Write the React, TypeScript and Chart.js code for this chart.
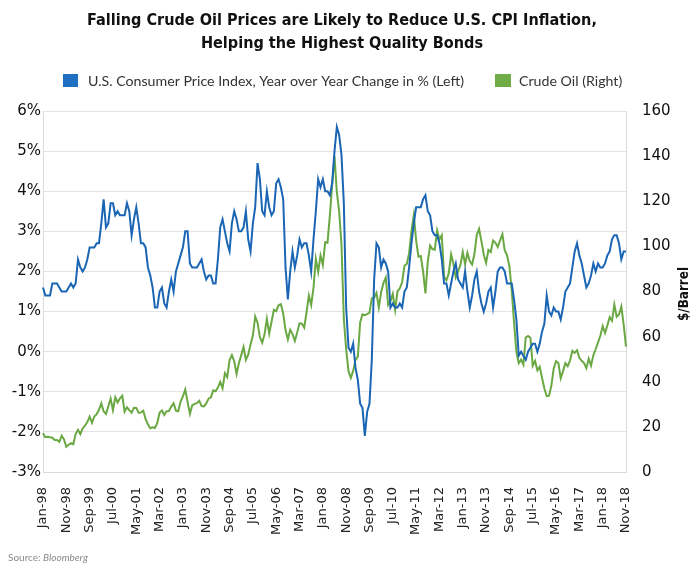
import React, { useEffect, useRef } from 'react';
import { Chart, registerables } from 'chart.js';

Chart.register(...registerables);

const MONTHS = ['Jan', 'Feb', 'Mar', 'Apr', 'May', 'Jun', 'Jul', 'Aug', 'Sep', 'Oct', 'Nov', 'Dec'];
const FIRST_YEAR = 1998;
const MONTH_COUNT = 251; // Jan-98 .. Nov-18

const categories: string[] = [];
for (let i = 0; i < MONTH_COUNT; i++) {
  const yr = FIRST_YEAR + Math.floor(i / 12);
  categories.push(`${MONTHS[i % 12]}-${String(yr % 100).padStart(2, '0')}`);
}

const tickLabels = [
  'Jan-98', 'Nov-98', 'Sep-99', 'Jul-00', 'May-01', 'Mar-02', 'Jan-03', 'Nov-03', 'Sep-04',
  'Jul-05', 'May-06', 'Mar-07', 'Jan-08', 'Nov-08', 'Sep-09', 'Jul-10', 'May-11', 'Mar-12',
  'Jan-13', 'Nov-13', 'Sep-14', 'Jul-15', 'May-16', 'Mar-17', 'Jan-18', 'Nov-18',
];

// U.S. CPI, year over year change in % (left axis)
const cpiYoY = [
  1.6, 1.4, 1.4, 1.4, 1.7, 1.7, 1.7, 1.6, 1.5, 1.5, 1.5, 1.6, // 1998
  1.7, 1.6, 1.7, 2.3, 2.1, 2.0, 2.1, 2.3, 2.6, 2.6, 2.6, 2.7, // 1999
  2.7, 3.2, 3.8, 3.1, 3.2, 3.7, 3.7, 3.4, 3.5, 3.4, 3.4, 3.4, // 2000
  3.7, 3.5, 2.9, 3.3, 3.6, 3.2, 2.7, 2.7, 2.6, 2.1, 1.9, 1.6, // 2001
  1.1, 1.1, 1.5, 1.6, 1.2, 1.1, 1.5, 1.8, 1.5, 2.0, 2.2, 2.4, // 2002
  2.6, 3.0, 3.0, 2.2, 2.1, 2.1, 2.1, 2.2, 2.3, 2.0, 1.8, 1.9, // 2003
  1.9, 1.7, 1.7, 2.3, 3.1, 3.3, 3.0, 2.7, 2.5, 3.2, 3.5, 3.3, // 2004
  3.0, 3.0, 3.1, 3.5, 2.8, 2.5, 3.2, 3.6, 4.7, 4.3, 3.5, 3.4, // 2005
  4.0, 3.6, 3.4, 3.5, 4.2, 4.3, 4.1, 3.8, 2.1, 1.3, 2.0, 2.5, // 2006
  2.1, 2.4, 2.8, 2.6, 2.7, 2.7, 2.4, 2.0, 2.8, 3.5, 4.3, 4.1, // 2007
  4.3, 4.0, 4.0, 3.9, 4.2, 5.0, 5.6, 5.4, 4.9, 3.7, 1.1, 0.1, // 2008
  0.0, 0.2, -0.4, -0.7, -1.3, -1.4, -2.1, -1.5, -1.3, -0.2, 1.8, 2.7, // 2009
  2.6, 2.1, 2.3, 2.2, 2.0, 1.1, 1.2, 1.1, 1.1, 1.2, 1.1, 1.5, // 2010
  1.6, 2.1, 2.7, 3.2, 3.6, 3.6, 3.6, 3.8, 3.9, 3.5, 3.4, 3.0, // 2011
  2.9, 2.9, 2.7, 2.3, 1.7, 1.7, 1.4, 1.7, 2.0, 2.2, 1.8, 1.7, // 2012
  1.6, 2.0, 1.5, 1.1, 1.4, 1.8, 2.0, 1.5, 1.2, 1.0, 1.2, 1.5, // 2013
  1.6, 1.1, 1.5, 2.0, 2.1, 2.1, 2.0, 1.7, 1.7, 1.7, 1.3, 0.8, // 2014
  -0.1, 0.0, -0.1, -0.2, 0.0, 0.1, 0.2, 0.2, 0.0, 0.2, 0.5, 0.7, // 2015
  1.4, 1.0, 0.9, 1.1, 1.0, 1.0, 0.8, 1.1, 1.5, 1.6, 1.7, 2.1, // 2016
  2.5, 2.7, 2.4, 2.2, 1.9, 1.6, 1.7, 1.9, 2.2, 2.0, 2.2, 2.1, // 2017
  2.1, 2.2, 2.4, 2.5, 2.8, 2.9, 2.9, 2.7, 2.3, 2.5, 2.5, // 2018
];

// Crude oil, $/barrel (right axis)
const crudeOil = [
  17.2, 15.4, 15.6, 15.4, 15.2, 14.2, 14.2, 13.4, 16.1, 14.4, 11.2, 12.1, // 1998
  12.8, 12.3, 16.8, 18.7, 16.8, 19.3, 20.5, 22.1, 24.5, 21.8, 24.6, 25.6, // 1999
  27.6, 30.4, 26.9, 25.7, 29.0, 32.5, 27.4, 33.1, 30.8, 32.7, 33.8, 26.8, // 2000
  28.7, 27.4, 26.3, 28.5, 28.4, 26.3, 26.4, 27.2, 23.4, 21.2, 19.4, 19.8, // 2001
  19.5, 21.7, 26.3, 27.3, 25.3, 26.9, 27.0, 29.0, 30.5, 27.2, 26.9, 31.2, // 2002
  33.5, 36.6, 31.0, 25.8, 29.6, 30.2, 30.5, 31.6, 29.2, 29.1, 30.4, 32.5, // 2003
  33.1, 36.2, 35.8, 37.4, 39.9, 37.1, 43.8, 42.1, 49.6, 51.8, 49.1, 43.5, // 2004
  48.2, 51.8, 55.4, 49.7, 52.0, 56.5, 60.6, 68.9, 66.2, 59.8, 57.3, 61.0, // 2005
  67.9, 61.4, 66.6, 71.9, 71.3, 73.9, 74.4, 70.3, 62.9, 58.7, 63.0, 61.1, // 2006
  58.1, 61.8, 65.9, 65.7, 64.0, 70.7, 78.2, 74.0, 81.7, 94.5, 88.7, 96.0, // 2007
  91.8, 101.8, 101.6, 113.5, 127.4, 140.0, 124.1, 115.5, 100.6, 67.8, 54.4, 44.6, // 2008
  41.7, 44.8, 49.7, 51.1, 66.3, 69.9, 69.5, 70.0, 70.6, 77.0, 77.3, 79.4, // 2009
  72.9, 79.7, 83.8, 86.2, 74.0, 75.6, 79.0, 71.9, 80.0, 81.4, 84.1, 91.4, // 2010
  92.2, 97.0, 106.7, 113.9, 102.7, 95.4, 95.7, 88.8, 79.2, 93.2, 100.4, 98.8, // 2011
  98.5, 107.1, 103.0, 104.9, 86.5, 85.0, 88.1, 96.5, 92.2, 86.2, 88.9, 91.8, // 2012
  97.5, 92.1, 97.2, 93.5, 92.0, 96.6, 105.0, 107.7, 102.3, 96.4, 92.7, 98.4, // 2013
  97.5, 102.6, 101.6, 99.7, 102.7, 105.4, 98.2, 96.0, 91.2, 80.5, 66.2, 53.3, // 2014
  48.2, 49.8, 47.6, 59.6, 60.3, 59.5, 47.1, 49.2, 45.1, 46.6, 41.7, 37.0, // 2015
  33.6, 33.8, 38.3, 45.9, 49.1, 48.3, 41.6, 44.7, 48.2, 46.9, 49.4, 53.7, // 2016
  52.8, 54.0, 50.6, 49.3, 48.3, 46.0, 50.2, 47.2, 51.7, 54.4, 57.4, 60.4, // 2017
  64.7, 61.6, 64.9, 68.6, 67.0, 74.2, 68.8, 69.8, 73.3, 65.3, 55.6, // 2018
];

const CPI_LABEL = 'U.S. Consumer Price Index, Year over Year Change in % (Left)';
const OIL_LABEL = 'Crude Oil (Right)';
const TITLE_LINES = [
  'Falling Crude Oil Prices are Likely to Reduce U.S. CPI Inflation,',
  'Helping the Highest Quality Bonds',
];
const RIGHT_AXIS_TITLE = '$/Barrel';
const SOURCE_PREFIX = 'Source: ';
const SOURCE_NAME = 'Bloomberg';

const BLUE = '#1a66b4';
const GREEN = '#6aa843';
const NARROW = "'Liberation Sans Narrow', 'DejaVu Sans Condensed', 'Roboto Condensed', 'Arial Narrow', sans-serif";

function fitFont(ctx: CanvasRenderingContext2D, text: string, weight: string, size: number, target: number) {
  ctx.font = `${weight} ${size}px ${NARROW}`;
  const w = ctx.measureText(text).width;
  const s = Math.min(size, (size * target) / w);
  ctx.font = `${weight} ${s}px ${NARROW}`;
}

const textPlugin = {
  id: 'customText',
  afterDraw(chart: any) {
    const ctx: CanvasRenderingContext2D = chart.ctx;
    ctx.save();
    // Title
    ctx.fillStyle = '#111';
    ctx.textAlign = 'center';
    ctx.textBaseline = 'middle';
    fitFont(ctx, TITLE_LINES[0], 'bold', 19, 510);
    ctx.fillText(TITLE_LINES[0], 342, 21);
    ctx.fillText(TITLE_LINES[1], 342, 44);

    // Legend
    ctx.textAlign = 'left';
    ctx.font = "14.2px Lato, 'Noto Sans', sans-serif";
    ctx.fillStyle = '#1f6fc2';
    ctx.fillRect(63, 74, 15, 13);
    ctx.fillStyle = '#333';
    ctx.fillText(CPI_LABEL, 88, 81);
    ctx.fillStyle = '#70ad47';
    ctx.fillRect(495, 74, 16, 13);
    ctx.fillStyle = '#333';
    ctx.fillText(OIL_LABEL, 519, 81);

    // Right axis title
    ctx.save();
    ctx.translate(685, 294);
    ctx.rotate(-Math.PI / 2);
    ctx.textAlign = 'center';
    ctx.fillStyle = '#111';
    fitFont(ctx, RIGHT_AXIS_TITLE, 'bold', 15, 54);
    ctx.fillText(RIGHT_AXIS_TITLE, 0, 0);
    ctx.restore();

    // Source
    ctx.textAlign = 'left';
    ctx.fillStyle = '#8a8a8a';
    ctx.font = "10px Lato, 'Noto Sans', sans-serif";
    ctx.fillText(SOURCE_PREFIX, 8, 558);
    const pw = ctx.measureText(SOURCE_PREFIX).width;
    ctx.font = "italic 10px Lato, 'Noto Sans', sans-serif";
    ctx.fillText(SOURCE_NAME, 8 + pw, 558);
    ctx.restore();
  },
};

export default function App() {
  const canvasRef = useRef<HTMLCanvasElement | null>(null);

  useEffect(() => {
    document.body.style.margin = '0';
    const canvas = canvasRef.current;
    if (!canvas) return;
    const tickFont = { family: "'DejaVu Sans', sans-serif", size: 15 };
    const chart = new Chart(canvas, {
      type: 'line',
      data: {
        labels: categories,
        datasets: [
          {
            label: CPI_LABEL,
            data: cpiYoY,
            borderColor: BLUE,
            backgroundColor: BLUE,
            borderWidth: 2,
            pointRadius: 0,
            tension: 0,
            yAxisID: 'y',
          },
          {
            label: OIL_LABEL,
            data: crudeOil,
            borderColor: GREEN,
            backgroundColor: GREEN,
            borderWidth: 2,
            pointRadius: 0,
            tension: 0,
            yAxisID: 'y1',
          },
        ],
      },
      options: {
        responsive: false,
        animation: false,
        layout: { padding: { top: 111, left: 0, right: 0, bottom: 0 } },
        plugins: {
          legend: { display: false },
          title: { display: false },
          tooltip: { enabled: false },
        },
        scales: {
          x: {
            type: 'category',
            offset: false,
            grid: { display: false, drawTicks: false },
            border: { display: true, color: '#dadada' },
            ticks: {
              autoSkip: false,
              minRotation: 90,
              maxRotation: 90,
              padding: 15,
              color: '#222',
              font: { family: "'DejaVu Sans', sans-serif", size: 13 },
              callback: (_v: any, i: number) => (tickLabels.includes(categories[i]) ? categories[i] : ''),
            },
            afterFit: (s: any) => {
              s.height = 102;
            },
          },
          y: {
            position: 'left',
            min: -3,
            max: 6,
            ticks: {
              stepSize: 1,
              padding: 2,
              color: '#111',
              font: tickFont,
              callback: (v: any) => `${v}%`,
            },
            grid: { color: '#e4e4e4', drawTicks: false, lineWidth: 1 },
            border: { display: true, color: '#dadada' },
            afterFit: (s: any) => {
              s.width = 43;
            },
          },
          y1: {
            position: 'right',
            min: 0,
            max: 160,
            ticks: { stepSize: 20, padding: 16, color: '#111', font: tickFont },
            grid: { drawOnChartArea: false, drawTicks: false },
            border: { display: true, color: '#dadada' },
            afterFit: (s: any) => {
              s.width = 74;
            },
          },
        },
      },
      plugins: [textPlugin],
    });
    return () => chart.destroy();
  }, []);

  return (
    <div style={{ width: 700, height: 574, background: '#fff' }}>
      <canvas ref={canvasRef} width={700} height={574} />
    </div>
  );
}
